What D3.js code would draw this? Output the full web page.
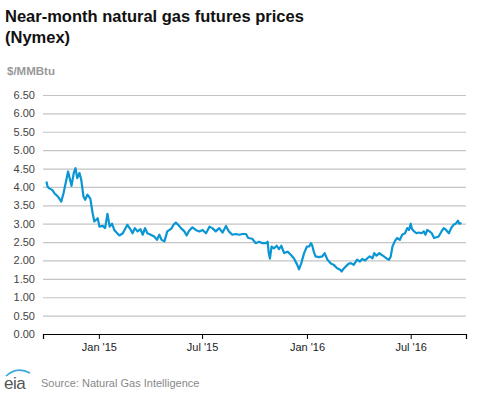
<!DOCTYPE html>
<html>
<head>
<meta charset="utf-8">
<style>
  html, body { margin: 0; padding: 0; background: #fff; }
  svg { display: block; font-family: "Liberation Sans", Arial, sans-serif; }
</style>
</head>
<body>
<div id="chart"></div>
<script src="https://cdn.jsdelivr.net/npm/d3@7"></script>
<script>
// near-month price
var dates = [
  "2014-10-01","2014-10-03","2014-10-06","2014-10-11","2014-10-15","2014-10-21","2014-10-27","2014-10-31",
  "2014-11-08","2014-11-14","2014-11-18","2014-11-21","2014-11-24","2014-11-28","2014-12-01","2014-12-05",
  "2014-12-08","2014-12-12","2014-12-17","2014-12-21","2014-12-24","2014-12-30","2015-01-02","2015-01-08",
  "2015-01-12","2015-01-16","2015-01-20","2015-01-24","2015-01-28","2015-02-01","2015-02-06","2015-02-12",
  "2015-02-15","2015-02-20","2015-02-26","2015-03-01","2015-03-05","2015-03-10","2015-03-15","2015-03-19",
  "2015-03-23","2015-03-27","2015-04-02","2015-04-08","2015-04-13","2015-04-17","2015-04-21","2015-04-26",
  "2015-05-01","2015-05-05","2015-05-09","2015-05-12","2015-05-16","2015-05-20","2015-05-25","2015-05-31",
  "2015-06-04","2015-06-08","2015-06-14","2015-06-20","2015-06-26","2015-07-02","2015-07-08","2015-07-14",
  "2015-07-19","2015-07-25","2015-07-31","2015-08-06","2015-08-12","2015-08-17","2015-08-23","2015-08-29",
  "2015-09-04","2015-09-10","2015-09-16","2015-09-20","2015-09-27","2015-10-03","2015-10-09","2015-10-15",
  "2015-10-21","2015-10-24","2015-10-26","2015-10-28","2015-10-31","2015-11-04","2015-11-09","2015-11-13",
  "2015-11-17","2015-11-22","2015-11-28","2015-12-04","2015-12-09","2015-12-15","2015-12-18","2015-12-22",
  "2015-12-27","2016-01-01","2016-01-05","2016-01-08","2016-01-10","2016-01-13","2016-01-16","2016-01-22",
  "2016-01-28","2016-02-01","2016-02-06","2016-02-12","2016-02-17","2016-02-23","2016-02-29","2016-03-02",
  "2016-03-06","2016-03-12","2016-03-15","2016-03-19","2016-03-23","2016-03-29","2016-04-03","2016-04-07",
  "2016-04-12","2016-04-16","2016-04-20","2016-04-25","2016-04-28","2016-05-02","2016-05-07","2016-05-11",
  "2016-05-15","2016-05-19","2016-05-24","2016-05-27","2016-05-30","2016-06-03","2016-06-07","2016-06-12",
  "2016-06-16","2016-06-21","2016-06-25","2016-06-28","2016-07-01","2016-07-03","2016-07-07","2016-07-11",
  "2016-07-15","2016-07-20","2016-07-24","2016-07-27","2016-07-30","2016-08-03","2016-08-07","2016-08-11",
  "2016-08-15","2016-08-19","2016-08-24","2016-08-28","2016-09-01","2016-09-06","2016-09-10","2016-09-14",
  "2016-09-18","2016-09-22","2016-09-24","2016-09-28"
];
var prices = [
  4.15,4.01,3.96,3.92,3.83,3.74,3.60,3.83,
  4.42,4.03,4.38,4.51,4.24,4.38,4.20,3.74,
  3.65,3.79,3.68,3.29,3.06,3.15,2.92,2.94,
  2.88,3.27,2.92,3.00,2.83,2.76,2.68,2.74,
  2.83,2.97,2.83,2.74,2.88,2.79,2.85,2.70,
  2.88,2.74,2.70,2.65,2.56,2.70,2.56,2.52,
  2.79,2.83,2.88,2.97,3.03,2.97,2.88,2.79,
  2.68,2.80,2.90,2.83,2.79,2.83,2.74,2.92,
  2.88,2.79,2.88,2.76,2.94,2.79,2.70,2.72,
  2.70,2.72,2.72,2.61,2.59,2.47,2.51,2.47,
  2.47,2.51,2.20,2.05,2.38,2.33,2.40,2.31,
  2.40,2.20,2.24,2.15,2.06,1.88,1.76,1.92,
  2.20,2.38,2.38,2.47,2.42,2.24,2.11,2.09,
  2.11,2.20,2.02,1.92,1.88,1.79,1.74,1.70,
  1.79,1.88,1.92,1.92,1.88,2.02,1.97,2.04,
  2.00,2.06,2.11,2.06,2.20,2.13,2.20,2.15,
  2.11,2.06,2.02,2.11,2.38,2.52,2.61,2.56,
  2.70,2.74,2.88,2.83,3.00,2.86,2.79,2.74,
  2.76,2.74,2.79,2.70,2.83,2.79,2.74,2.61,
  2.63,2.65,2.79,2.88,2.83,2.74,2.88,2.97,
  3.00,3.08,3.00,3.02
];
var yTicks = [0, 0.5, 1, 1.5, 2, 2.5, 3, 3.5, 4, 4.5, 5, 5.5, 6, 6.5];
var xTicks = ["2015-01-01", "2015-07-01", "2016-01-01", "2016-07-01"];

var width = 477, height = 393;
var parse = d3.utcParse("%Y-%m-%d");
var data = dates.map((d, i) => ({date: parse(d), value: prices[i]}));

var svg = d3.select("#chart").append("svg")
  .attr("width", width).attr("height", height);

var x = d3.scaleUtc()
  .domain([parse("2014-09-25"), parse("2016-10-06")])
  .range([43, 466]);
var y = d3.scaleLinear()
  .domain([0, 6.5])
  .range([334, 95]);

// titles
svg.append("text")
  .attr("x", 5).attr("y", 22)
  .attr("font-size", 16.5).attr("font-weight", "bold").attr("fill", "#111")
  .text("Near-month natural gas futures prices");
svg.append("text")
  .attr("x", 5).attr("y", 43)
  .attr("font-size", 16.5).attr("font-weight", "bold").attr("fill", "#111")
  .text("(Nymex)");
svg.append("text")
  .attr("x", 7).attr("y", 75)
  .attr("font-size", 11.5).attr("font-weight", "bold").attr("fill", "#999")
  .text("$/MMBtu");

// grid + y labels
var yAxis = svg.append("g")
  .attr("transform", "translate(43,0)")
  .call(d3.axisLeft(y).tickValues(yTicks).tickFormat(d3.format(".2f"))
    .tickSize(-(466 - 43)).tickPadding(8));
yAxis.select(".domain").remove();
yAxis.selectAll(".tick line").attr("stroke", "#c4c4c4").attr("stroke-width", 1.2);
yAxis.selectAll(".tick text")
  .attr("font-size", 11).attr("fill", "#444")
  .attr("font-family", "Liberation Sans, Arial, sans-serif");
yAxis.selectAll(".tick").filter(d => d === 0).select("line").remove();

// x axis
var xAxis = svg.append("g")
  .attr("transform", "translate(0,334)")
  .call(d3.axisBottom(x).tickValues(xTicks.map(parse))
    .tickFormat(d3.utcFormat("%b '%y")).tickSizeOuter(0).tickSize(5).tickPadding(4));
xAxis.select(".domain").attr("stroke", "#000").attr("stroke-width", 1.2);
xAxis.selectAll(".tick line").attr("stroke", "#000");
xAxis.selectAll(".tick text")
  .attr("font-size", 11).attr("fill", "#222")
  .attr("font-family", "Liberation Sans, Arial, sans-serif");

// price line
svg.append("path")
  .datum(data)
  .attr("fill", "none")
  .attr("stroke", "#0a96d4")
  .attr("stroke-width", 2.2)
  .attr("stroke-linejoin", "round")
  .attr("d", d3.line().x(d => x(d.date)).y(d => y(d.value)));

// footer: eia mark + source
var logo = svg.append("g").attr("transform", "translate(3,370)");
logo.append("path")
  .attr("d", "M3,6 Q14,-4 27,3")
  .attr("fill", "none").attr("stroke", "#3aa6dc").attr("stroke-width", 1.6);
logo.append("text")
  .attr("x", 1).attr("y", 19)
  .attr("font-size", 17).attr("fill", "#555").attr("letter-spacing", -0.5)
  .text("eia");
svg.append("text")
  .attr("x", 41).attr("y", 387)
  .attr("font-size", 11).attr("fill", "#888")
  .text("Source: Natural Gas Intelligence");
</script>
</body>
</html>
